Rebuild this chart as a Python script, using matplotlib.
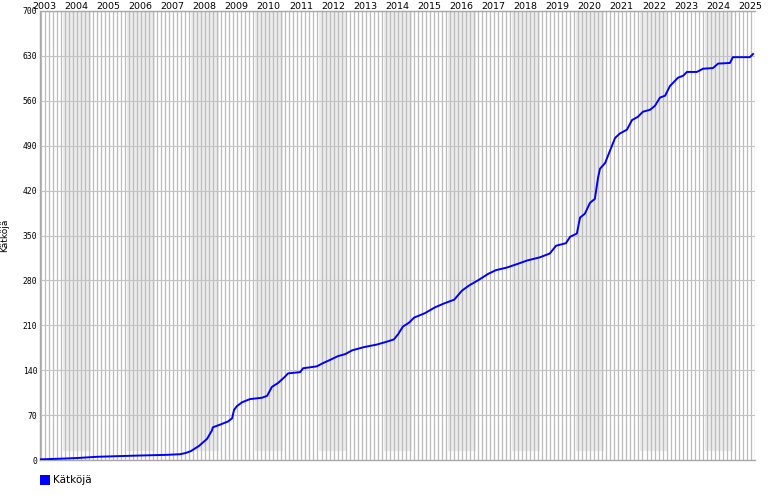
import numpy as np
import matplotlib
matplotlib.use("Agg")
import matplotlib.pyplot as plt
from matplotlib.patches import Rectangle

# cumulative cache count (x in fractional years)
years = [2002.88, 2003.50, 2004.00, 2004.65, 2005.30, 2006.00, 2006.80, 2007.24,
         2007.42, 2007.58, 2007.83, 2008.08, 2008.23, 2008.26, 2008.48, 2008.73,
         2008.86, 2008.92, 2009.01, 2009.17, 2009.42, 2009.79, 2009.95, 2010.10,
         2010.29, 2010.51, 2010.60, 2010.98, 2011.07, 2011.50, 2011.69, 2011.91,
         2012.16, 2012.38, 2012.60, 2012.97, 2013.37, 2013.65, 2013.90, 2014.03,
         2014.18, 2014.37, 2014.53, 2014.87, 2015.18, 2015.46, 2015.78, 2016.02,
         2016.24, 2016.55, 2016.83, 2017.08, 2017.42, 2017.77, 2018.05, 2018.45,
         2018.76, 2018.95, 2019.26, 2019.39, 2019.60, 2019.70, 2019.85, 2020.01,
         2020.16, 2020.26, 2020.32, 2020.48, 2020.63, 2020.79, 2020.94, 2021.16,
         2021.32, 2021.50, 2021.66, 2021.88, 2022.03, 2022.19, 2022.35, 2022.50,
         2022.75, 2022.91, 2023.03, 2023.34, 2023.53, 2023.84, 2024.00, 2024.37,
         2024.46, 2024.99, 2025.09]
caches = [1, 2, 3, 5, 6, 7, 8, 9,
          11, 14, 22, 33, 46, 51, 55, 60,
          65, 78, 84, 90, 95, 97, 100, 114,
          120, 130, 135, 137, 143, 146, 151, 156,
          162, 165, 171, 176, 180, 184, 188, 196,
          208, 214, 222, 229, 238, 244, 250, 264,
          272, 281, 290, 296, 300, 306, 311, 316,
          322, 334, 338, 348, 353, 378, 384, 401,
          407, 440, 454, 463, 482, 502, 509, 515,
          530, 535, 543, 546, 552, 565, 568, 583,
          596, 599, 605, 605, 610, 611, 618, 619,
          628, 628, 633]
year_labels = list(range(2003, 2026))
y_ticks = list(range(0, 701, 70))
label = "Kätköjä"

x0, x1 = 2002.875, 2025.15

fig = plt.figure(figsize=(7.7, 5.0), dpi=100)
ax = fig.add_axes([40 / 770, 40 / 500, 715 / 770, 449 / 500])
ax.set_xlim(x0, x1)
ax.set_ylim(0, 700)

# alternating shaded bands
for b in np.arange(2003.58, x1, 2.0):
    ax.add_patch(Rectangle((b, 14), 0.87, 686, facecolor="#ececec",
                           edgecolor="none", zorder=0))

# dense vertical grid
for gx in np.arange(x0 + 0.02, x1, 1 / 8):
    ax.axvline(gx, color="#bcbcbc", lw=0.9, zorder=1)
for gy in y_ticks[1:]:
    ax.axhline(gy, color="#c4c4c4", lw=0.8, zorder=1)

ax.plot(years, caches, color="#0000ff", lw=1.4, zorder=3)

ax.spines["right"].set_visible(False)
for s in ["left", "bottom", "top"]:
    ax.spines[s].set_color("#a8a8a8")
    ax.spines[s].set_linewidth(1.0)

ax.set_yticks(y_ticks)
ax.set_yticklabels([str(v) for v in y_ticks], family="DejaVu Sans Mono", fontsize=5.8)
ax.tick_params(axis="y", length=0, pad=2)
ax.set_xticks(year_labels)
ax.set_xticklabels([str(y) for y in year_labels], fontsize=6.8)
ax.tick_params(axis="x", bottom=False, labelbottom=False, top=False, labeltop=True,
               length=0, pad=0)
ax.set_ylabel(label, fontsize=6.5, labelpad=10)

# legend
fig.patches.append(Rectangle((40 / 770, 15 / 500), 10 / 770, 10 / 500,
                             transform=fig.transFigure, facecolor="#0000ff",
                             edgecolor="none"))
fig.text(53 / 770, 20 / 500, label, fontsize=7.5, va="center", ha="left")

fig.savefig("out.png", dpi=100)
